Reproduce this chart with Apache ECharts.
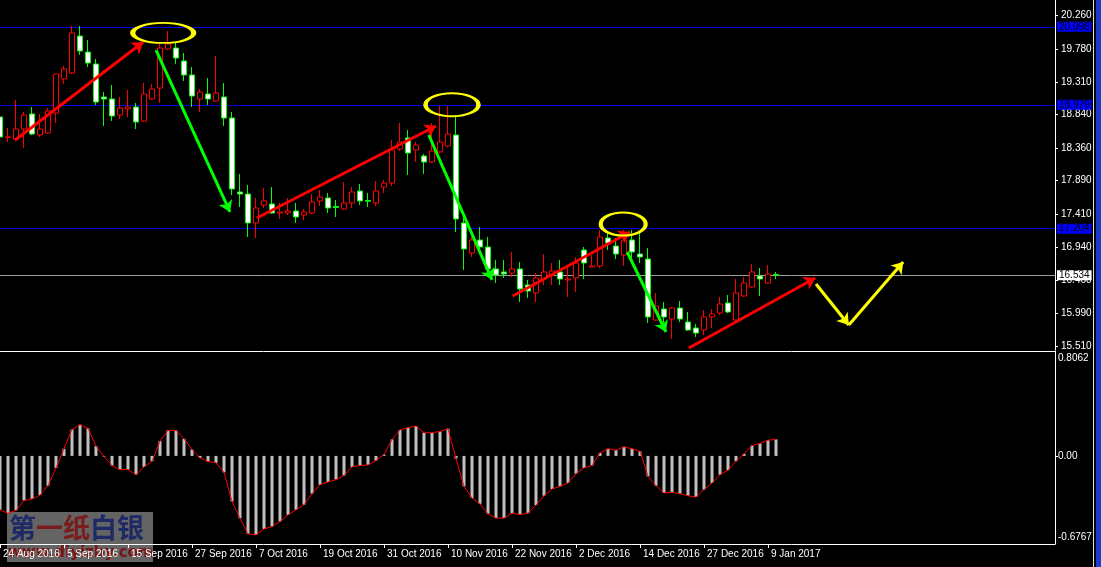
<!DOCTYPE html>
<html><head><meta charset="utf-8">
<script src="https://cdn.jsdelivr.net/npm/echarts@6/dist/echarts.min.js"></script>
<style>html,body{margin:0;padding:0;background:#000;overflow:hidden}#c{width:1101px;height:567px}</style>
</head><body><div id="c"></div><script>
// ---- data ----
const tickLabels = ['24 Aug 2016','5 Sep 2016','15 Sep 2016','27 Sep 2016','7 Oct 2016','19 Oct 2016','31 Oct 2016','10 Nov 2016','22 Nov 2016','2 Dec 2016','14 Dec 2016','27 Dec 2016','9 Jan 2017'];
const barsPerLabel = 8;
const priceTicks = [20.260,19.780,19.310,18.840,18.360,17.890,17.410,16.940,16.460,15.990,15.510];
const macdTicks = [0.8062, 0, -0.6767];
const opens = [18.805,18.512,18.488,18.632,18.848,18.546,18.575,18.862,19.351,19.437,19.968,19.738,19.566,19.092,19.063,18.833,18.920,18.948,18.747,19.063,19.221,19.782,19.796,19.609,19.408,19.063,19.135,19.034,19.092,18.790,17.727,17.698,17.282,17.540,17.555,17.425,17.425,17.454,17.396,17.425,17.598,17.641,17.519,17.483,17.569,17.741,17.605,17.569,17.799,17.856,18.345,18.503,18.330,18.244,18.158,18.302,18.388,18.546,17.282,16.850,17.037,16.937,16.621,16.578,16.563,16.621,16.391,16.276,16.477,16.534,16.578,16.463,16.491,16.894,16.649,16.664,17.066,16.951,16.822,17.037,16.836,16.764,15.888,16.046,15.902,16.060,15.859,15.773,15.744,15.931,15.988,16.132,15.888,16.233,16.362,16.520,16.419,16.540];
const closes = [18.517,18.517,18.632,18.833,18.560,18.632,18.891,19.422,19.494,20.012,19.753,19.580,19.020,19.063,18.819,18.934,18.948,18.733,19.135,19.207,19.796,19.853,19.652,19.408,19.106,19.164,19.063,19.149,18.790,17.770,17.698,17.282,17.497,17.598,17.425,17.440,17.454,17.368,17.440,17.583,17.655,17.497,17.504,17.569,17.727,17.598,17.595,17.741,17.856,18.330,18.445,18.287,18.402,18.158,18.316,18.445,18.560,17.339,16.908,17.037,16.937,16.621,16.534,16.549,16.621,16.333,16.304,16.491,16.578,16.592,16.477,16.477,16.707,16.707,16.664,17.080,16.994,16.836,17.037,16.865,16.793,15.931,16.089,15.931,16.060,15.902,15.744,15.701,15.931,15.974,16.118,16.003,16.276,16.419,16.578,16.477,16.549,16.534];
const lows = [18.474,18.445,18.460,18.359,18.546,18.517,18.560,18.718,19.279,19.422,19.695,19.523,18.977,18.675,18.747,18.776,18.805,18.632,18.733,19.049,19.006,19.767,19.566,19.322,18.948,18.876,18.977,19.020,18.675,17.684,17.511,17.080,17.066,17.497,17.420,17.339,17.396,17.282,17.325,17.411,17.526,17.425,17.368,17.468,17.497,17.540,17.511,17.526,17.713,17.813,18.316,17.971,18.158,17.986,18.144,18.287,18.374,17.152,16.606,16.793,16.850,16.563,16.419,16.491,16.506,16.146,16.204,16.146,16.391,16.391,16.391,16.218,16.290,16.477,16.645,16.635,16.894,16.764,16.664,16.750,16.707,15.845,15.873,15.845,15.615,15.859,15.730,15.644,15.672,15.773,15.960,15.988,15.873,16.218,16.348,16.233,16.405,16.477];
const highs = [18.963,18.647,19.049,18.876,18.948,18.848,18.934,19.430,19.537,20.112,20.112,19.911,19.638,19.164,19.264,19.092,19.192,19.006,19.293,19.279,19.868,20.040,19.868,19.724,19.523,19.207,19.365,19.681,19.293,18.876,17.986,17.828,17.641,17.784,17.799,17.569,17.641,17.569,17.483,17.698,17.756,17.713,17.612,17.871,17.799,17.842,17.713,17.885,17.899,18.474,18.718,18.618,18.445,18.273,18.718,18.963,18.963,18.833,17.382,17.080,17.224,17.080,16.750,16.750,16.865,16.721,16.463,16.563,16.836,16.707,16.750,16.649,16.793,16.937,16.822,17.181,17.138,17.066,17.181,17.181,17.138,16.922,16.276,16.146,16.075,16.161,16.003,15.830,16.032,16.046,16.218,16.247,16.477,16.506,16.692,16.635,16.678,16.578];
const macdHist = [-0.414,-0.440,-0.419,-0.342,-0.331,-0.301,-0.229,-0.092,0.055,0.204,0.240,0.212,0.075,-0.005,-0.074,-0.105,-0.105,-0.144,-0.084,-0.041,0.114,0.196,0.196,0.132,0.049,-0.015,-0.043,-0.053,-0.126,-0.350,-0.479,-0.599,-0.607,-0.561,-0.543,-0.504,-0.453,-0.414,-0.375,-0.290,-0.221,-0.200,-0.182,-0.151,-0.084,-0.074,-0.069,-0.036,0.010,0.127,0.200,0.217,0.230,0.178,0.178,0.188,0.209,-0.020,-0.234,-0.324,-0.368,-0.445,-0.478,-0.478,-0.440,-0.450,-0.440,-0.378,-0.306,-0.254,-0.234,-0.208,-0.136,-0.092,-0.074,0.024,0.055,0.044,0.070,0.055,0.036,-0.157,-0.229,-0.285,-0.280,-0.290,-0.306,-0.316,-0.259,-0.208,-0.144,-0.110,-0.041,0.016,0.080,0.096,0.121,0.127];
const levelLines = [20.098, 18.979, 17.204];
const bidPrice = 16.534;
// annotations in data coordinates [barIndex, price]
const redArrows = [[[1.9,18.474],[17.9,19.882]],[[32.1,17.353],[54.5,18.675]],[[64.1,16.233],[78.75,17.152]],[[86.1,15.485],[101.9,16.491]]];
const greenArrows = [[[19.5,19.767],[28.75,17.440]],[[53.6,18.546],[61.5,16.463]],[[78.4,16.865],[83.25,15.715]]];
const yellowArrows = [[[102,16.405],[106.1,15.816]],[[106.1,15.816],[112.9,16.721]]];
const topMarks = [[20.4,20.012],[56.5,18.981],[77.9,17.267]];

// ---- chart ----
const FONT = '"Liberation Sans",Arial,sans-serif';
const FS = 10;
const candleData = opens.map((o,i)=>[i,o,closes[i],lows[i],highs[i]]);
const macdData = macdHist.map((v,i)=>[i,v]);
const labelIdx = tickLabels.map((_,k)=>k*barsPerLabel);
const markSizes = [[61,20],[53,23],[45,23]];
const macdMax = macdTicks[0], macdMin = macdTicks[macdTicks.length-1];

const chart = echarts.init(document.getElementById('c'), null, {renderer:'canvas'});
const arrowSeries = (arr,color)=>({
  type:'lines', coordinateSystem:'cartesian2d', xAxisIndex:0, yAxisIndex:0, z:6, silent:true,
  symbol:['none','arrow'], symbolSize:11,
  lineStyle:{color:color,width:3,opacity:1,curveness:0},
  data: arr.map(c=>({coords:c}))
});
const levelLabel = (txt,bg)=>({show:true,position:'end',distance:2,formatter:txt,color:'#000',backgroundColor:bg,
  padding:[0,2,0,2],fontSize:FS,fontFamily:FONT,lineHeight:10});
chart.setOption({
  backgroundColor:'#000', animation:false,
  grid:[{left:0,top:0,width:1055,height:350},{left:0,top:351,width:1055,height:193}],
  xAxis:[
    {type:'value',gridIndex:0,min:0,max:1055/8,show:false},
    {type:'value',gridIndex:1,min:0,max:1055/8,position:'bottom',
     axisLine:{show:true,onZero:false,lineStyle:{color:'#fff',width:1}},
     axisTick:{show:true,length:4,lineStyle:{color:'#fff'},customValues:labelIdx},
     axisLabel:{show:true,color:'#fff',fontSize:FS,fontFamily:FONT,align:'left',margin:5,padding:[0,0,0,3],customValues:labelIdx,
       formatter:v=>tickLabels[Math.round(v/barsPerLabel)]||''},
     splitLine:{show:false}},
    {type:'value',gridIndex:1,min:0,max:1055/8,position:'top',
     axisLine:{show:true,onZero:false,lineStyle:{color:'#fff',width:1}},axisTick:{show:false},axisLabel:{show:false},splitLine:{show:false}}
  ],
  yAxis:[
    {type:'value',gridIndex:0,position:'right',min:15.4855-2*0.014368,max:20.4856,
     axisLine:{show:true,onZero:false,lineStyle:{color:'#fff'}},
     axisTick:{show:true,length:3,lineStyle:{color:'#fff'},customValues:priceTicks},
     axisLabel:{color:'#fff',fontSize:FS,fontFamily:FONT,margin:6,customValues:priceTicks,formatter:v=>v.toFixed(3)},
     splitLine:{show:false}},
    {type:'value',gridIndex:1,position:'right',min:macdMin,max:macdMax,
     axisLine:{show:true,onZero:false,lineStyle:{color:'#fff'}},
     axisTick:{show:true,length:3,lineStyle:{color:'#fff'},customValues:[0]},
     axisLabel:{color:'#fff',fontSize:FS,fontFamily:FONT,margin:3,customValues:macdTicks,
       formatter:v=>v===0?'0.00':(v>0?'{t|'+v.toFixed(4)+'}':'{b|'+v.toFixed(4)+'}'),
       rich:{t:{padding:[15,0,0,0],fontSize:FS,fontFamily:FONT,color:'#fff'},
             b:{padding:[0,0,13,0],fontSize:FS,fontFamily:FONT,color:'#fff'}}},
     splitLine:{show:false}}
  ],
  series:[
    {type:'candlestick',xAxisIndex:0,yAxisIndex:0,data:candleData,encode:{x:0,y:[1,2,3,4]},barWidth:5,z:3,
     itemStyle:{color:'#000',color0:'#fff',borderColor:'#ff0000',borderColor0:'#00ff00',borderWidth:1},
     markLine:{silent:true,symbol:['none','none'],animation:false,z:1,
       data:[
         ...levelLines.map(v=>({yAxis:v,lineStyle:{color:'#0000e0',width:1,type:'solid'},label:levelLabel(v.toFixed(3),'#0000ff')})),
         {yAxis:bidPrice,lineStyle:{color:'#a0a0a0',width:1,type:'solid'},label:levelLabel(bidPrice.toFixed(3),'#fff')}
       ]}},
    arrowSeries(redArrows,'#ff0000'),
    arrowSeries(greenArrows,'#00ff00'),
    arrowSeries(yellowArrows,'#ffff00'),
    {type:'scatter',xAxisIndex:0,yAxisIndex:0,z:7,silent:true,data:topMarks,symbol:'circle',
     symbolSize:(v,p)=>markSizes[p.dataIndex],
     itemStyle:{color:'rgba(0,0,0,0)',borderColor:'#ffff00',borderWidth:3,opacity:1}},
    {type:'bar',xAxisIndex:1,yAxisIndex:1,data:macdData,barWidth:3,itemStyle:{color:'#c0c0c0'},z:2},
    {type:'line',xAxisIndex:1,yAxisIndex:1,data:macdData,symbol:'none',lineStyle:{color:'#ff0000',width:1},z:3}
  ],
  graphic:[
    {type:'rect',left:1093,top:0,shape:{width:1,height:567},style:{fill:'#e0e0e0'}},
    {type:'rect',left:1096,top:0,shape:{width:5,height:567},style:{fill:'#1c3ccc'}},
    {type:'group',left:7,top:512,z:100,children:[
      {type:'rect',shape:{width:146,height:50},style:{fill:'rgba(128,128,128,0.78)'}},
      {type:'text',left:2,top:2,style:{text:'{a|第}{b|一纸}{a|白银}',rich:{
         a:{fontSize:27,fontWeight:'bold',fill:'#1e2a66',fontFamily:'"Noto Sans CJK SC"'},
         b:{fontSize:27,fontWeight:'bold',fill:'#7a1c1c',fontFamily:'"Noto Sans CJK SC"'}}}},
      {type:'text',left:1,top:34,style:{text:'www.diyizby.com',fontSize:15,fontWeight:'bold',fill:'#7a1414',fontFamily:'"DejaVu Sans"'}}
    ]}
  ]
});
</script></body></html>
